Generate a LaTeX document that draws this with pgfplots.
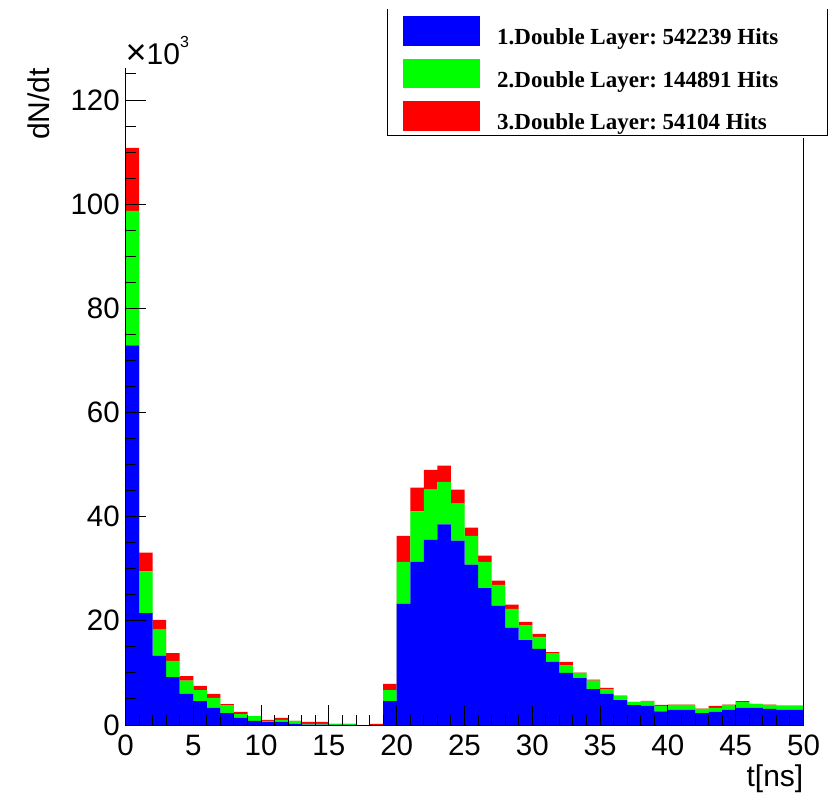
\documentclass[border=0pt]{standalone}
\usepackage{pgfplots}
\pgfplotsset{compat=1.18}
\usepackage{pgfplotstable}
\usepackage{fontspec}
\setmainfont{Liberation Serif}
\newfontfamily\arial{Liberation Sans}
\frenchspacing
\pgfplotstableread{
t b g r
0 72.9 25.8 12.1
1 21.5 8.0 3.6
2 13.3 5.0 1.9
3 9.2 3.1 1.5
4 6.0 2.5 0.9
5 4.6 2.1 0.8
6 3.3 1.9 0.8
7 2.3 1.5 0.2
8 1.35 0.75 0.4
9 0.8 0.9 0.0
10 0.6 0.2 0.2
11 0.6 0.4 0.35
12 0.2 0.6 0.0
13 0.05 0.15 0.4
14 0.05 0.15 0.4
15 0.02 0.18 0.0
16 0.02 0.18 0.0
17 0 0 0
18 0 0 0.2
19 4.6 2.1 1.2
20 23.3 8.0 5.0
21 31.3 9.7 4.6
22 35.6 9.6 3.8
23 38.5 8.2 3.1
24 35.4 7.1 2.7
25 30.8 5.5 1.6
26 26.3 5.0 1.2
27 22.9 4.0 0.8
28 18.7 3.6 0.8
29 16.3 2.9 0.6
30 14.6 2.3 0.6
31 12.1 1.6 0.3
32 10.0 1.5 0.6
33 9.0 1.0 0.05
34 6.9 1.6 0.2
35 6.0 0.9 0.25
36 4.8 0.8 0.05
37 3.8 0.6 0.05
38 3.65 0.95 0.05
39 2.6 1.05 0.2
40 2.9 0.95 0.05
41 2.9 0.95 0.05
42 2.3 0.8 0.05
43 2.5 0.8 0.35
44 2.9 0.95 0.05
45 3.3 1.1 0.2
46 3.3 0.7 0.05
47 3.1 0.75 0.05
48 2.9 0.75 0.05
49 2.9 0.75 0.05
50 2.9 0.75 0.05
}\hist
\newcommand\legtext[1]{\makebox[315bp][l]{#1}}
\begin{document}
\begin{tikzpicture}
\path[use as bounding box] (-125.5bp,-69bp) rectangle (710.5bp,725bp);
\begin{axis}[
  scale only axis, width=678bp, height=657bp,
  xmin=0, xmax=50, ymin=0, ymax=126.15,
  stack plots=y, clip=false, axis on top,
  axis x line*=bottom, axis y line*=left,
  axis line style={line width=1bp, black},
  tick align=inside,
  xtick={0,5,...,50}, ytick={0,20,...,120},
  minor xtick={0,1,...,50}, minor ytick={0,5,...,125},
  major tick length=20bp, minor tick length=10bp,
  every tick/.style={black, line width=1bp},
  /pgf/number format/assume math mode=true,
  tick label style={font=\arial\fontsize{29.5bp}{33bp}\selectfont, inner sep=0pt},
  xticklabel style={yshift=-10bp},
  yticklabel style={xshift=-5.5bp},
  xlabel={t[ns]},
  every axis x label/.style={at={(axis description cs:1,-0.0936)}, anchor=base east, inner sep=0pt, font=\arial\fontsize{30bp}{36bp}\selectfont},
  ylabel={dN/dt},
  every axis y label/.style={at={(axis description cs:-0.11136,1)}, rotate=90, anchor=base east, inner sep=0pt, font=\arial\fontsize{30bp}{36bp}\selectfont},
  legend style={at={(axis description cs:0.38643,1.08904)}, anchor=north west, draw=none, fill=white,
    inner xsep=15.5bp, inner ysep=6.5bp, row sep=12.8bp, column sep=17bp,
    nodes={inner sep=0pt}, font=\bfseries\fontsize{23bp}{26bp}\selectfont},
  legend cell align=left,
  legend image code/.code={\fill[#1] (0bp,-8.4bp) rectangle (77bp,21.1bp);},
]
\addplot[const plot, fill=blue, draw=none] table[x=t, y=b]{\hist} \closedcycle;
\addlegendentry{\legtext{1.Double Layer: 542239 Hits}}
\addplot[const plot, fill=green, draw=none] table[x=t, y=g]{\hist} \closedcycle;
\addlegendentry{\legtext{2.Double Layer: 144891 Hits}}
\addplot[const plot, fill=red, draw=none] table[x=t, y=r]{\hist} \closedcycle;
\addlegendentry{\legtext{3.Double Layer: 54104 Hits}}
\draw[line width=1bp] (rel axis cs:1,0) -- (rel axis cs:1,1);
\node[anchor=base west, inner sep=0pt, font=\arial\fontsize{30bp}{36bp}\selectfont] at (rel axis cs:0,1.00457) {{\fontsize{36bp}{36bp}\selectfont ×}10\raisebox{17bp}{\fontsize{16bp}{16bp}\selectfont 3}};
\end{axis}
\draw[line width=1bp] (262bp,715.5bp) -- (262bp,589bp) -- (701.5bp,589bp) -- (701.5bp,715.5bp);
\end{tikzpicture}
\end{document}
